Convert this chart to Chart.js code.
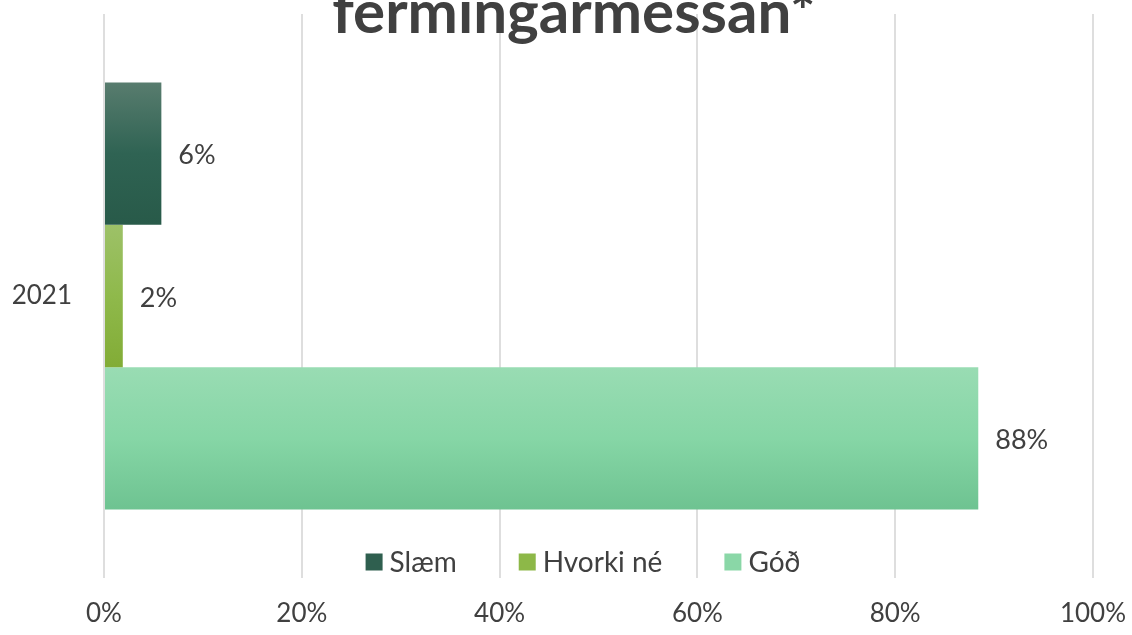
<!DOCTYPE html>
<html>
<head>
<meta charset="utf-8">
<script src="https://cdn.jsdelivr.net/npm/chart.js@4/dist/chart.umd.min.js"></script>
<style>
html,body{margin:0;padding:0;background:#fff;}
#wrap{width:1132px;height:635px;position:relative;}
</style>
</head>
<body>
<div id="wrap"><canvas id="c" width="1132" height="635"></canvas></div>
<script>
const titleText = "fermingarmessan*";
const categories = ["2021"];
const seriesNames = ["Slæm", "Hvorki né", "Góð"];
const slaemValues = [5.8];
const hvorkiValues = [1.9];
const godValues = [88.4];
const xTicks = [0, 20, 40, 60, 80, 100];

const gradStops = [
  ["#587c6e", "#2f6353", "#285a49"],
  ["#9dc168", "#8fb94b", "#82ac36"],
  ["#99dcb3", "#86d6a6", "#6ec391"]
];
const legendColors = ["#2f5f4f", "#8db848", "#8ad7a7"];
const textColor = "#404040";
const FONT = "Lato, 'Open Sans', sans-serif";
const CAT_PCT = 0.757;

function barGradient(ctx) {
  const chart = ctx.chart;
  const area = chart.chartArea;
  const i = ctx.datasetIndex;
  const stops = gradStops[i];
  if (!area || !chart.scales.y) return stops[1];
  const ys = chart.scales.y;
  const center = ys.getPixelForValue(ctx.dataIndex || 0);
  const catH = (ys.bottom - ys.top) / categories.length;
  const group = catH * CAT_PCT;
  const h = group / seriesNames.length;
  const top = center - group / 2 + i * h;
  const g = chart.ctx.createLinearGradient(0, top, 0, top + h);
  g.addColorStop(0, stops[0]);
  g.addColorStop(0.5, stops[1]);
  g.addColorStop(1, stops[2]);
  return g;
}

const customPlugin = {
  id: "custom",
  afterDatasetsDraw(chart) {
    const c = chart.ctx;
    c.save();
    // data labels
    c.font = "27px " + FONT;
    c.fillStyle = textColor;
    c.textAlign = "left";
    c.textBaseline = "middle";
    chart.data.datasets.forEach((ds, di) => {
      const meta = chart.getDatasetMeta(di);
      meta.data.forEach((el, j) => {
        c.fillText(Math.round(ds.data[j]) + "%", el.x + 17, el.y + 2);
      });
    });
    // legend
    const box = 17, gapIn = 7, gapOut = 62;
    c.font = "28px " + FONT;
    const widths = seriesNames.map(n => box + gapIn + c.measureText(n).width);
    const total = widths.reduce((a, b) => a + b, 0) + gapOut * (seriesNames.length - 1);
    let x = 583 - total / 2;
    const ly = 562;
    seriesNames.forEach((n, i) => {
      c.fillStyle = legendColors[i];
      c.fillRect(x, ly - box / 2, box, box);
      c.fillStyle = textColor;
      c.textAlign = "left";
      c.textBaseline = "middle";
      c.fillText(n, x + box + gapIn, ly + 1);
      x += widths[i] + gapOut;
    });
    // title
    c.font = "bold 50px " + FONT;
    const w = c.measureText(titleText).width;
    const size = 50 * 483 / w;
    c.font = "bold " + size.toFixed(1) + "px " + FONT;
    c.textAlign = "center";
    c.textBaseline = "alphabetic";
    c.fillStyle = textColor;
    c.fillText(titleText, 574, 33);
    c.restore();
  }
};

new Chart(document.getElementById("c"), {
  type: "bar",
  data: {
    labels: categories,
    datasets: [
      { label: seriesNames[0], data: slaemValues, backgroundColor: barGradient },
      { label: seriesNames[1], data: hvorkiValues, backgroundColor: barGradient },
      { label: seriesNames[2], data: godValues, backgroundColor: barGradient }
    ]
  },
  options: {
    indexAxis: "y",
    responsive: false,
    animation: false,
    devicePixelRatio: 1,
    layout: { padding: { top: 14, right: 39, bottom: 0, left: 0 } },
    datasets: { bar: { barPercentage: 1, categoryPercentage: CAT_PCT, borderWidth: 0 } },
    plugins: { legend: { display: false }, title: { display: false }, tooltip: { enabled: false } },
    scales: {
      x: {
        min: 0, max: 100,
        afterBuildTicks(scale) { scale.ticks = xTicks.map(v => ({ value: v })); },
        afterFit(scale) { scale.height = 57; scale.paddingLeft = 0; scale.paddingRight = 0; },
        grid: { color: "#dedede", lineWidth: 2, drawTicks: false },
        border: { display: false },
        ticks: { padding: 20, color: textColor, font: { family: FONT, size: 26 }, callback: v => v + "%" }
      },
      y: {
        afterFit(scale) { scale.width = 104; scale.paddingTop = 0; scale.paddingBottom = 0; },
        grid: { display: false, drawTicks: false },
        border: { display: false },
        ticks: { padding: 32, color: textColor, font: { family: FONT, size: 26 } }
      }
    }
  },
  plugins: [customPlugin]
});
</script>
</body>
</html>
